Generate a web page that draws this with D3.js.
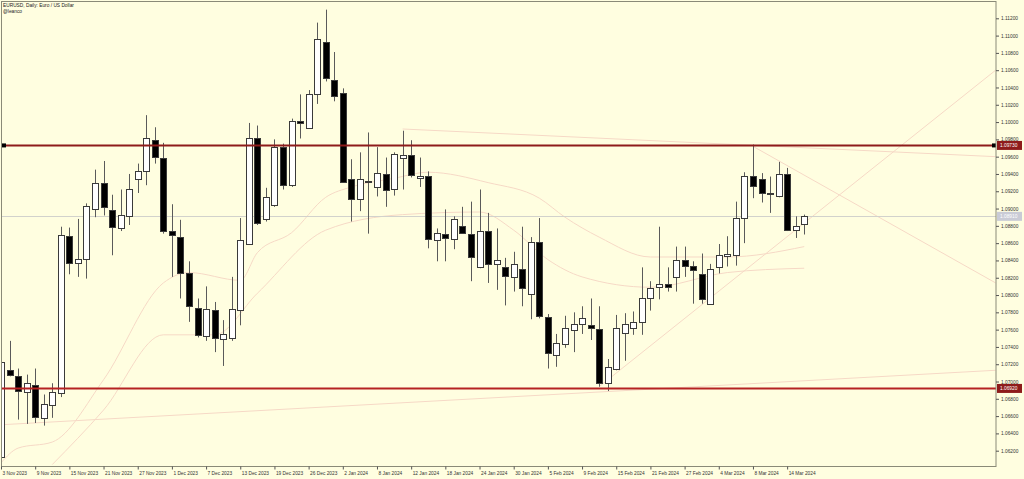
<!DOCTYPE html>
<html><head><meta charset="utf-8">
<script src="https://cdn.jsdelivr.net/npm/d3@7"></script>
<style>body{margin:0;background:#FFFEE0;}svg{display:block}</style>
</head><body><svg id="c" width="1024" height="479"></svg>
<script>
const dates = ["2023-11-03","2023-11-06","2023-11-07","2023-11-08","2023-11-09","2023-11-10","2023-11-13","2023-11-14","2023-11-15","2023-11-16","2023-11-17","2023-11-20","2023-11-21","2023-11-22","2023-11-23","2023-11-24","2023-11-27","2023-11-28","2023-11-29","2023-11-30",
"2023-12-01","2023-12-04","2023-12-05","2023-12-06","2023-12-07","2023-12-08","2023-12-11","2023-12-12","2023-12-13","2023-12-14","2023-12-15","2023-12-18","2023-12-19","2023-12-20","2023-12-21","2023-12-22","2023-12-26","2023-12-27","2023-12-28","2023-12-29",
"2024-01-02","2024-01-03","2024-01-04","2024-01-05","2024-01-08","2024-01-09","2024-01-10","2024-01-11","2024-01-12","2024-01-15","2024-01-16","2024-01-17","2024-01-18","2024-01-19","2024-01-22","2024-01-23","2024-01-24","2024-01-25","2024-01-26","2024-01-29","2024-01-30","2024-01-31",
"2024-02-01","2024-02-02","2024-02-05","2024-02-06","2024-02-07","2024-02-08","2024-02-09","2024-02-12","2024-02-13","2024-02-14","2024-02-15","2024-02-16","2024-02-19","2024-02-20","2024-02-21","2024-02-22","2024-02-23","2024-02-26","2024-02-27","2024-02-28","2024-02-29",
"2024-03-01","2024-03-04","2024-03-05","2024-03-06","2024-03-07","2024-03-08","2024-03-11","2024-03-12","2024-03-13","2024-03-14","2024-03-15","2024-03-18"];
const open  = [1.0612,1.0713,1.0706,1.0688,1.0696,1.0658,1.0673,1.0686,1.0868,1.0837,1.0842,1.0900,1.0930,1.0898,1.0877,1.0892,1.0934,1.0944,1.0979,1.0959,
1.0874,1.0867,1.0825,1.0785,1.0753,1.0783,1.0749,1.0751,1.0783,1.0860,1.0982,1.0888,1.0904,1.0971,1.0927,1.1001,1.0993,1.1032,1.1093,1.1049,
1.1034,1.0934,1.0911,1.0932,1.0925,1.0940,1.0922,1.0958,1.0962,1.0936,1.0938,1.0864,1.0871,1.0865,1.0880,1.0871,1.0832,1.0874,1.0836,1.0832,1.0821,1.0830,
1.0801,1.0861,1.0775,1.0730,1.0744,1.0760,1.0767,1.0765,1.0761,1.0699,1.0715,1.0757,1.0762,1.0769,1.0796,1.0809,1.0813,1.0821,1.0841,1.0833,1.0824,
1.0790,1.0832,1.0845,1.0846,1.0889,1.0938,1.0934,1.0918,1.0914,1.0940,1.0875,1.0882];
const high  = [1.0727,1.0747,1.0715,1.0708,1.0715,1.0685,1.0698,1.0879,1.0878,1.0888,1.0906,1.0945,1.0955,1.0916,1.0922,1.0940,1.0952,1.1008,1.0994,1.0976,
1.0905,1.0887,1.0839,1.0796,1.0810,1.0792,1.0771,1.0821,1.0889,1.0999,1.0996,1.0924,1.0980,1.0975,1.1004,1.1032,1.1037,1.1115,1.1130,1.1081,
1.1039,1.0957,1.0965,1.0988,1.0971,1.0959,1.0965,1.0990,1.0979,1.0959,1.0943,1.0877,1.0899,1.0891,1.0902,1.0908,1.0922,1.0895,1.0877,1.0843,1.0850,1.0879,
1.0867,1.0889,1.0778,1.0755,1.0776,1.0780,1.0787,1.0796,1.0787,1.0726,1.0777,1.0779,1.0781,1.0832,1.0816,1.0879,1.0832,1.0856,1.0856,1.0839,1.0848,
1.0836,1.0859,1.0868,1.0908,1.0942,1.0974,1.0941,1.0937,1.0954,1.0947,1.0891,1.0893];
const low   = [1.0607,1.0706,1.0656,1.0651,1.0652,1.0649,1.0658,1.0682,1.0824,1.0821,1.0819,1.0890,1.0892,1.0846,1.0874,1.0881,1.0918,1.0927,1.0952,1.0871,
1.0821,1.0796,1.0769,1.0751,1.0747,1.0734,1.0718,1.0747,1.0765,1.0858,1.0881,1.0885,1.0902,1.0922,1.0925,1.0981,1.0992,1.1021,1.1047,1.1024,
1.0930,1.0885,1.0897,1.0871,1.0914,1.0902,1.0915,1.0922,1.0936,1.0925,1.0854,1.0839,1.0839,1.0853,1.0871,1.0816,1.0831,1.0814,1.0806,1.0788,1.0804,1.0787,
1.0772,1.0773,1.0715,1.0717,1.0739,1.0734,1.0755,1.0748,1.0694,1.0689,1.0713,1.0724,1.0754,1.0754,1.0782,1.0795,1.0804,1.0804,1.0821,1.0790,1.0790,
1.0789,1.0825,1.0833,1.0834,1.0860,1.0912,1.0907,1.0895,1.0913,1.0874,1.0866,1.0870];
const close = [1.0722,1.0707,1.0689,1.0698,1.0659,1.0674,1.0688,1.0869,1.0837,1.0842,1.0903,1.0930,1.0902,1.0878,1.0892,1.0923,1.0943,1.0982,1.0959,1.0875,
1.0869,1.0825,1.0787,1.0754,1.0784,1.0751,1.0755,1.0784,1.0864,1.0982,1.0884,1.0913,1.0971,1.0927,1.1001,1.0999,1.1032,1.1096,1.1051,1.1031,
1.0931,1.0911,1.0934,1.0932,1.0941,1.0922,1.0963,1.0962,1.0939,1.0938,1.0865,1.0872,1.0866,1.0888,1.0872,1.0844,1.0874,1.0836,1.0841,1.0822,1.0836,1.0808,
1.0861,1.0776,1.0733,1.0744,1.0762,1.0767,1.0774,1.0762,1.0699,1.0717,1.0762,1.0767,1.0769,1.0797,1.0808,1.0813,1.0810,1.0841,1.0834,1.0828,1.0795,
1.0830,1.0846,1.0847,1.0889,1.0938,1.0927,1.0918,1.0918,1.0940,1.0875,1.0880,1.0891];

const yTicks = [1.062,1.064,1.066,1.068,1.070,1.072,1.074,1.076,1.078,1.080,1.082,1.084,1.086,1.088,1.090,1.092,1.094,1.096,1.098,1.100,1.102,1.104,1.106,1.108,1.110,1.112];
const xTickIdx = [0,4,8,12,16,20,24,28,32,36,40,44,48,52,56,60,64,68,72,76,80,84,88,92];
const xTickLabels = ["3 Nov 2023","9 Nov 2023","15 Nov 2023","21 Nov 2023","27 Nov 2023","1 Dec 2023","7 Dec 2023","13 Dec 2023","19 Dec 2023","26 Dec 2023","2 Jan 2024","8 Jan 2024","12 Jan 2024","18 Jan 2024","24 Jan 2024","30 Jan 2024","5 Feb 2024","9 Feb 2024","15 Feb 2024","21 Feb 2024","27 Feb 2024","4 Mar 2024","8 Mar 2024","14 Mar 2024"];

const levelPrices = [1.0973, 1.0692];
const lastPrice = 1.0891;

// trendlines: [startIndex, startPrice, endIndex, endPrice]
const trend1 = [0, 1.0650, 116.4, 1.0713];
const trend2 = [47, 1.0992, 116.4, 1.0960];
const trend3 = [88, 1.0972, 116.4, 1.0814];
const trend4 = [70, 1.0694, 116.4, 1.1060];

// moving-average style curves: [index, price]
const maFastIdx = [0,2,6,12,19,22,28,30,34,38,41,46,50,57,63,66,70,76,85,94];
const maFastVal = [1.0606,1.0623,1.0630,1.0702,1.0814,1.0826,1.0817,1.0849,1.0872,1.0913,1.0925,1.0935,1.0942,1.0930,1.0912,1.0890,1.0867,1.0844,1.0844,1.0856];
const maSlowIdx = [6,12,19,25,30,38,47,56,60,64,68,76,85,94];
const maSlowVal = [1.0604,1.0667,1.0754,1.0754,1.0802,1.0875,1.0893,1.0896,1.0875,1.0841,1.0821,1.0809,1.0826,1.0831];

const W = 1024, H = 479;
const plot = {l: 1.5, t: 1.5, r: 996, b: 466.5};
const FONT = "Liberation Sans, Arial, sans-serif";
const faint = "#F6D9C6";
const svg = d3.select("#c");
svg.append("rect").attr("width", W).attr("height", H).attr("fill", "#FFFEE0");

const x = d3.scaleLinear().domain([0, 94]).range([1, 1 + 94 * 8.545]);
const y = d3.scaleLinear().domain([1.062, 1.112]).range([450.7, 18.3]);

svg.append("defs").append("clipPath").attr("id", "clip")
  .append("rect").attr("x", plot.l).attr("y", plot.t).attr("width", plot.r - plot.l).attr("height", plot.b - plot.t);
const g = svg.append("g").attr("clip-path", "url(#clip)");

// faint curves
const line = d3.line().x(d => x(d[0])).y(d => y(d[1])).curve(d3.curveMonotoneX);
g.append("path").datum(maFastIdx.map((d, i) => [d, maFastVal[i]])).attr("d", line)
  .attr("fill", "none").attr("stroke", faint).attr("stroke-width", 1);
g.append("path").datum(maSlowIdx.map((d, i) => [d, maSlowVal[i]])).attr("d", line)
  .attr("fill", "none").attr("stroke", faint).attr("stroke-width", 1);
[trend1, trend2, trend3, trend4].forEach(t => {
  g.append("line").attr("x1", x(t[0])).attr("y1", y(t[1])).attr("x2", x(t[2])).attr("y2", y(t[3]))
    .attr("stroke", faint).attr("stroke-width", 1);
});

// last price line
g.append("line").attr("x1", plot.l).attr("x2", plot.r).attr("y1", Math.round(y(lastPrice)) + 0.5).attr("y2", Math.round(y(lastPrice)) + 0.5)
  .attr("stroke", "#D2D2CC").attr("stroke-width", 1);

// candles
const idx = d3.range(dates.length);
const cx = i => Math.round(x(i)) + 0.5;
g.selectAll("line.wick").data(idx).join("line").attr("class", "wick")
  .attr("x1", cx).attr("x2", cx).attr("y1", i => y(high[i])).attr("y2", i => y(low[i]))
  .attr("stroke", "#5a5a5a").attr("stroke-width", 1);
g.selectAll("rect.body").data(idx).join("rect").attr("class", "body")
  .attr("x", i => cx(i) - 3).attr("width", 6)
  .attr("y", i => Math.round(y(Math.max(open[i], close[i]))) + 0.5)
  .attr("height", i => Math.max(1, Math.round(Math.abs(y(open[i]) - y(close[i])))))
  .attr("fill", i => close[i] >= open[i] ? "#FFFFFF" : "#000000")
  .attr("stroke", "#3a3a3a").attr("stroke-width", 1);

// red level lines
const levelColors = ["#8E1B1B", "#B52222"];
levelPrices.forEach((p, k) => {
  g.append("line").attr("x1", plot.l).attr("x2", plot.r).attr("y1", y(p)).attr("y2", y(p))
    .attr("stroke", levelColors[k]).attr("stroke-width", 2);
});
svg.append("rect").attr("x", 2).attr("y", y(levelPrices[0]) - 2).attr("width", 4).attr("height", 4).attr("fill", "#000");
svg.append("rect").attr("x", 992).attr("y", y(levelPrices[0]) - 2).attr("width", 4).attr("height", 4).attr("fill", "#000");

// frame
svg.append("rect").attr("x", plot.l).attr("y", plot.t).attr("width", plot.r - plot.l).attr("height", plot.b - plot.t)
  .attr("fill", "none").attr("stroke", "#8A8A78").attr("stroke-width", 1);

// y axis
const yAxis = d3.axisRight(y).tickValues(yTicks).tickFormat(d3.format(".5f")).tickSize(3).tickPadding(2);
const ya = svg.append("g").attr("transform", `translate(${plot.r},0)`).call(yAxis);
ya.select(".domain").remove();
ya.selectAll("line").attr("stroke", "#555");
ya.selectAll("text").attr("font-family", FONT).attr("font-size", 4.8).attr("fill", "#333");

// x axis
const xAxis = d3.axisBottom(x).tickValues(xTickIdx).tickFormat((d, i) => xTickLabels[i]).tickSize(3).tickPadding(2);
const xa = svg.append("g").attr("transform", `translate(0,${plot.b})`).call(xAxis);
xa.select(".domain").remove();
xa.selectAll("line").attr("stroke", "#555");
xa.selectAll("text").attr("text-anchor", "start").attr("dx", 1).attr("font-family", FONT).attr("font-size", 4.8).attr("fill", "#333");

// value boxes on price axis
function box(p, bg, fg) {
  const yy = y(p);
  svg.append("rect").attr("x", 997).attr("y", yy - 4.5).attr("width", 25).attr("height", 9).attr("fill", bg);
  svg.append("text").attr("x", 1000).attr("y", yy + 1.7).text(d3.format(".5f")(p))
    .attr("font-family", FONT).attr("font-size", 4.8).attr("fill", fg);
}
box(levelPrices[0], "#8E1B1B", "#FFFFFF");
box(levelPrices[1], "#8E1B1B", "#FFFFFF");
box(lastPrice, "#C9CBD6", "#FFFFFF");

// title
svg.append("text").attr("x", 3).attr("y", 7.3).text("EURUSD, Daily:  Euro / US Dollar")
  .attr("font-family", FONT).attr("font-size", 4.8).attr("fill", "#222");
svg.append("text").attr("x", 3).attr("y", 12.7).text("@leanco")
  .attr("font-family", FONT).attr("font-size", 4.8).attr("fill", "#222");
</script></body></html>
